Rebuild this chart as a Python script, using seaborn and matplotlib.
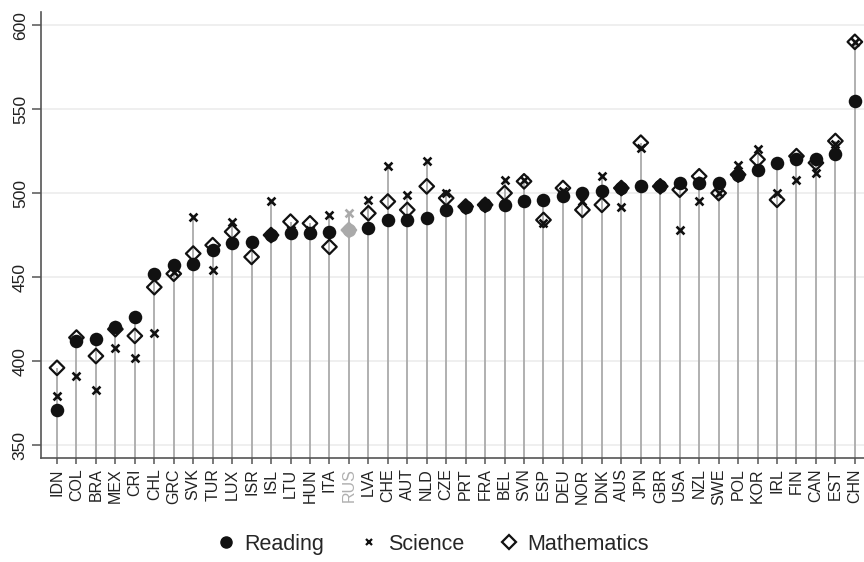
import numpy as np
import pandas as pd
import matplotlib
matplotlib.use("Agg")
import matplotlib.pyplot as plt
from matplotlib.lines import Line2D
import seaborn as sns

countries = ["IDN", "COL", "BRA", "MEX", "CRI", "CHL", "GRC", "SVK", "TUR", "LUX",
             "ISR", "ISL", "LTU", "HUN", "ITA", "RUS", "LVA", "CHE", "AUT", "NLD",
             "CZE", "PRT", "FRA", "BEL", "SVN", "ESP", "DEU", "NOR", "DNK", "AUS",
             "JPN", "GBR", "USA", "NZL", "SWE", "POL", "KOR", "IRL", "FIN", "CAN",
             "EST", "CHN"]
reading = [371, 412, 413, 420, 426, 452, 457, 458, 466, 470,
           471, 475, 476, 476, 477, 478, 479, 484, 484, 485,
           490, 492, 493, 493, 495, 496, 498, 500, 501, 503,
           504, 504, 506, 506, 506, 511, 514, 518, 520, 520,
           523, 555]
science = [379, 391, 383, 408, 402, 417, 453, 486, 454, 483,
           470, 495, 478, 478, 487, 488, 496, 516, 499, 519,
           500, 492, 494, 508, 508, 482, 501, 495, 510, 492,
           527, 505, 478, 495, 500, 517, 526, 500, 508, 512,
           529, 590]
mathematics = [396, 414, 403, 419, 415, 444, 452, 464, 469, 477,
               462, 475, 483, 482, 468, 478, 488, 495, 490, 504,
               497, 492, 493, 500, 507, 484, 503, 490, 493, 503,
               530, 504, 502, 510, 500, 511, 520, 496, 522, 518,
               531, 590]
greyed = ["RUS"]

df = pd.DataFrame({"country": countries, "Reading": reading,
                   "Science": science, "Mathematics": mathematics})
df["pos"] = np.arange(len(df))
df["top"] = df[["Reading", "Science", "Mathematics"]].max(axis=1)
df["grey"] = df["country"].isin(greyed)

sns.set_style("white")
plt.rcParams["font.family"] = ["Liberation Sans", "DejaVu Sans"]

fig = plt.figure(figsize=(8.64, 5.62), dpi=100)
ax = fig.add_axes([0.0475, 0.185, 0.9525, 0.794])

# stems from the axis floor up to the highest score
ax.vlines(df["pos"], 300, df["top"], color="#b0b0b0", linewidth=1.4, zorder=1)

for is_grey, col in [(False, "#111111"), (True, "#aaaaaa")]:
    sub = df[df["grey"] == is_grey]
    sns.scatterplot(data=sub, x="pos", y="Reading", marker="o", s=95,
                    color=col, edgecolor=col, linewidth=0, ax=ax, zorder=3)
    sns.scatterplot(data=sub, x="pos", y="Science", marker="x", s=32,
                    color=col, linewidth=1.9, ax=ax, zorder=4)
    sns.scatterplot(data=sub, x="pos", y="Mathematics", marker="D", s=55,
                    facecolor="none", edgecolor=col, linewidth=1.6, ax=ax, zorder=5)

ax.set_xlim(-0.82, 41.47)
ax.set_ylim(342.3, 607.9)
ax.set_yticks([350, 400, 450, 500, 550, 600])
ax.set_xticks(df["pos"])
ax.set_xticklabels(countries, rotation=90, fontsize=11.5, color="#222222")
for lab in ax.get_xticklabels():
    if lab.get_text() in greyed:
        lab.set_color("#b0b0b0")
for lab in ax.get_yticklabels():
    lab.set_rotation(90)
    lab.set_va("center")
    lab.set_fontsize(12.5)
    lab.set_color("#222222")
ax.set_xlabel("")
ax.set_ylabel("")

ax.grid(axis="y", color="#ececec", linewidth=1.2)
ax.set_axisbelow(True)
sns.despine(ax=ax, top=True, right=True)
for side in ["left", "bottom"]:
    ax.spines[side].set_color("#555555")
    ax.spines[side].set_linewidth(1.2)
ax.tick_params(axis="y", length=6.5, width=1.1, color="#555555", pad=3, left=True)
ax.tick_params(axis="x", length=4.5, width=1.1, color="#555555", pad=3, bottom=True)

handles = [
    Line2D([], [], linestyle="none", marker="o", color="#111111", markersize=8),
    Line2D([], [], linestyle="none", marker="x", color="#111111", markersize=5,
           markeredgewidth=1.6),
    Line2D([], [], linestyle="none", marker="D", markerfacecolor="none",
           markeredgecolor="#111111", markersize=7.5, markeredgewidth=1.6),
]
fig.legend(handles, ["Reading", "Science", "Mathematics"], loc="lower center",
           bbox_to_anchor=(0.5, -0.022), ncol=3, frameon=False, fontsize=15.5,
           handletextpad=0.35, columnspacing=1.6, handlelength=1.0)

fig.savefig("out.png", dpi=100)
